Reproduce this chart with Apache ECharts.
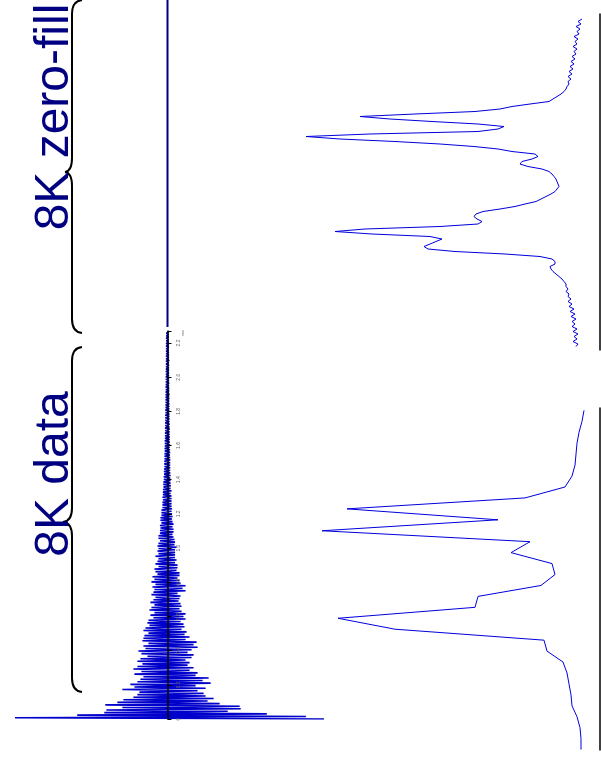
<!DOCTYPE html>
<html>
<head>
<meta charset="utf-8">
<script src="https://cdn.jsdelivr.net/npm/echarts@6.0.0/dist/echarts.min.js"></script>
<style>
  html, body { margin: 0; padding: 0; background: #fff; }
  #chart { width: 601px; height: 763px; }
</style>
</head>
<body>
<div id="chart"></div>
<script>
// FID (time domain), one sample every FID_DT seconds
const FID_DT = 0.0075;
const fidAmp = [
  156, -152, 138, -90, 99, -63, 60, -61, 73, -45,
  72, -62, 52, -50, 40, -44, 46, -34, 38, -30,
  36, -28, 30, -45, 38, -33, 28, -37, 43, -30,
  35, -27, 41, -24, 28, -33, 30, -26, 22, -34,
  26, -30, 20, -25, 22, -30, 18, -27, 24, -20,
  26, -26, 20, -29, 24, -22, 30, -24, 26, -19,
  29, -25, 18, -24, 22, -23, 17, -19, 19, -24,
  14, -22, 17, -18, 16, -20, 13, -19, 18, -14,
  16, -17, 18, -13, 14, -18, 12, -16, 14, -13,
  13, -17, 11, -14, 12, -12, 13, -16, 10, -14,
  18, -13, 15, -15, 18, -12, 13, -16, 12, -13,
  10, -15, 12, -10, 12, -12, 9, -13, 10, -9,
  10, -12, 7.5, -10, 9, -9, 7.5, -12, 7.5, -9,
  7.5, -10, 7.5, -9, 9, -10, 7, -9, 7.5, -7.5,
  7, -9, 6, -9, 5, -7.5, 6, -7.5, 6, -7,
  5, -7.5, 6, -6, 5, -7, 4.5, -7, 5, -6,
  4.5, -6, 4, -6, 4.5, -5, 4, -5, 4, -5,
  4, -4.5, 4, -5, 4, -4.5, 3, -4.5, 4, -4.5,
  3, -4, 3.3, -4.2, 3, -4, 3, -3.6, 2.7, -3.8,
  3, -3.3, 2.7, -3.5, 2.6, -3.3, 2.7, -3, 2.6, -3.2,
  2.6, -3.2, 2.7, -2.9, 2.6, -3, 2.4, -2.9, 2.6, -2.7,
  2.4, -2.9, 2.2, -2.6, 2.4, -2.6, 2.2, -2.7, 2.2, -2.4,
  2.2, -2.4, 2.1, -2.4, 2.1, -2.2, 2.1, -2.4, 1.9, -2.2,
  2.1, -2.2, 1.9, -2.1, 1.9, -2.1, 1.9, -2.2, 1.8, -1.9,
  1.9, -2.1, 1.8, -1.9, 1.8, -1.9, 1.8, -1.9, 1.6, -1.9,
  1.8, -1.8, 1.6, -1.8, 1.6, -1.8, 1.6, -1.6, 1.6, -1.8,
  1.4, -1.6, 1.6, -1.6, 1.4, -1.6, 1.4, -1.6, 1.4, -1.4,
  1.4, -1.6, 1.4, -1.4, 1.3, -1.4, 1.4, -1.4, 1.3, -1.4,
  1.3, -1.3, 1.3, -1.4, 1.3, -1.3, 1.3, -1.3, 1.1, -1.3,
  1.3, -1.3, 1.1, -1.3, 1.1, -1.1, 1.1, -1.3, 1.1, -1.1,
  1.1, -1.1, 1.1
];
// zero-filled part of the FID (all zeros)
const zeroFillTime = [2.28, 4.2];
const zeroFillAmp = [0, 0];

const timeTicks = [0, 0.2, 0.4, 0.6, 0.8, 1.0, 1.2, 1.4, 1.6, 1.8, 2.0, 2.2];
const timeTickLabels = ['0', '0.2', '0.4', '0.6', '0.8', '1.0', '1.2', '1.4', '1.6', '1.8', '2.0', '2.2'];

// spectrum of the zero-filled FID (fine sampling)
const zfSpectrum = [
  18, 22, 19, 24, 20, 23, 21, 26, 22, 25,
  23, 27, 23, 26, 24, 28, 25, 29, 26, 30,
  27, 31, 28, 32, 29, 32, 31, 33, 34, 36,
  39, 43, 47, 51, 70, 88, 100, 125, 185, 240,
  210, 168, 122, 96, 102, 122, 230, 294, 260, 205,
  160, 126, 102, 88, 65, 62, 68, 78, 80, 72,
  58, 51, 48, 46, 44, 43, 42, 41, 43, 45,
  49, 54, 59, 64, 75, 85, 100, 117, 124, 126,
  123, 118, 122, 160, 235, 265, 228, 170, 158, 164,
  170, 176, 172, 145, 95, 60, 48, 45, 45, 50,
  49, 47, 44, 41, 38, 36, 34, 34, 32, 34,
  31, 32, 29, 32, 28, 31, 26, 30, 25, 29,
  24, 28, 25, 28, 23, 27, 22, 26, 23, 27,
  22, 24
];
// spectrum of the 8K data only (coarse sampling)
const dataSpectrum = [
  16, 18, 21, 23, 24, 25, 28, 35, 75, 253,
  102, 278, 70, 89, 48, 45, 59, 122, 125, 262,
  205, 56, 53, 37, 33, 31, 29, 28, 23, 20,
  19, 19
];

const chart = echarts.init(document.getElementById('chart'));

const tickLabel = (v) => {
  const k = timeTicks.findIndex(t => Math.abs(t - v) < 1e-6);
  return k < 0 ? '' : timeTickLabels[k];
};

const specYAxis = (min, max) => ({
  type: 'value', inverse: true, min: min, max: max, position: 'right',
  axisLine: { show: true, onZero: false, lineStyle: { color: '#000', width: 1.5 } },
  axisTick: { show: false }, axisLabel: { show: false }, splitLine: { show: false }
});

// curly brace pointing left, spanning y0..y1 with the tip at (tipX, tipY)
const brace = (y0, y1, tipY, tipX) => {
  const st = { stroke: '#000', lineWidth: 2, fill: null };
  const xr = 82, xl = 72;
  return [
    { type: 'bezierCurve', shape: { x1: xr, y1: y0, x2: xl, y2: y0 + 14, cpx1: xl, cpy1: y0 + 1 }, style: st },
    { type: 'line', shape: { x1: xl, y1: y0 + 14, x2: xl, y2: tipY - 14 }, style: st },
    { type: 'bezierCurve', shape: { x1: xl, y1: tipY - 14, x2: tipX, y2: tipY, cpx1: xl, cpy1: tipY - 1 }, style: st },
    { type: 'bezierCurve', shape: { x1: tipX, y1: tipY, x2: xl, y2: tipY + 14, cpx1: xl, cpy1: tipY + 1 }, style: st },
    { type: 'line', shape: { x1: xl, y1: tipY + 14, x2: xl, y2: y1 - 14 }, style: st },
    { type: 'bezierCurve', shape: { x1: xl, y1: y1 - 14, x2: xr, y2: y1, cpx1: xl, cpy1: y1 - 1 }, style: st }
  ];
};

const option = {
  animation: false,
  backgroundColor: '#fff',
  grid: [
    { left: 7, right: 273, top: 331, bottom: 44 },   // FID
    { left: 7, right: 273, top: 0, bottom: 436 },    // zero-fill
    { left: 290, right: 1, top: 14, bottom: 413 },   // zero-filled spectrum
    { left: 290, right: 1, top: 408, bottom: 13 }    // 8K spectrum
  ],
  xAxis: [
    { gridIndex: 0, type: 'value', min: -160, max: 160, show: false },
    { gridIndex: 1, type: 'value', min: -160, max: 160, show: false },
    { gridIndex: 2, type: 'value', inverse: true, min: 0, max: 310, show: false },
    { gridIndex: 3, type: 'value', inverse: true, min: 0, max: 310, show: false }
  ],
  yAxis: [
    {
      gridIndex: 0, type: 'value', min: 0, max: 2.27, interval: 0.2, z: 5,
      position: 'left', offset: -160.5,
      axisLine: { show: true, onZero: false, lineStyle: { color: '#000', width: 1.5 } },
      axisTick: { show: true, inside: true, length: 4, lineStyle: { color: '#000', width: 1 } },
      minorTick: { show: true, splitNumber: 2, length: 2, lineStyle: { color: '#000', width: 1 } },
      axisLabel: { inside: true, rotate: 90, fontSize: 5, color: '#666', margin: 9, formatter: tickLabel },
      splitLine: { show: false }
    },
    { gridIndex: 1, type: 'value', min: 2.28, max: 4.2, show: false },
    Object.assign({ gridIndex: 2 }, specYAxis(-2, 132.4)),
    Object.assign({ gridIndex: 3 }, specYAxis(-0.22, 31.04))
  ],
  series: [
    {
      type: 'line', xAxisIndex: 0, yAxisIndex: 0, symbol: 'none',
      data: fidAmp.map((a, i) => [a, i * FID_DT]),
      lineStyle: { color: '#0000cc', width: 1.6 }
    },
    {
      type: 'line', xAxisIndex: 1, yAxisIndex: 1, symbol: 'none',
      data: zeroFillTime.map((t, i) => [zeroFillAmp[i], t]),
      lineStyle: { color: '#000080', width: 2 }
    },
    {
      type: 'line', xAxisIndex: 2, yAxisIndex: 2, symbol: 'none',
      data: zfSpectrum.map((v, i) => [v, i]),
      lineStyle: { color: '#0000dd', width: 1 }
    },
    {
      type: 'line', xAxisIndex: 3, yAxisIndex: 3, symbol: 'none',
      data: dataSpectrum.map((v, i) => [v, i]),
      lineStyle: { color: '#0000dd', width: 1 }
    }
  ],
  graphic: [].concat(
    brace(0, 333, 172, 65),
    brace(347, 692, 522, 63),
    [
      {
        type: 'text', x: 55, y: 117, rotation: Math.PI / 2,
        style: { text: '8K zero-fill', font: '48px "Liberation Sans", Arial, sans-serif', fill: '#000080', align: 'center', verticalAlign: 'middle' }
      },
      {
        type: 'text', x: 55, y: 474, rotation: Math.PI / 2,
        style: { text: '8K data', font: '48px "Liberation Sans", Arial, sans-serif', fill: '#000080', align: 'center', verticalAlign: 'middle' }
      },
      {
        type: 'text', x: 183, y: 333, rotation: Math.PI / 2,
        style: { text: 'sec', font: '4px "Liberation Sans", Arial, sans-serif', fill: '#666', align: 'center', verticalAlign: 'middle' }
      }
    ]
  )
};

chart.setOption(option);
</script>
</body>
</html>
